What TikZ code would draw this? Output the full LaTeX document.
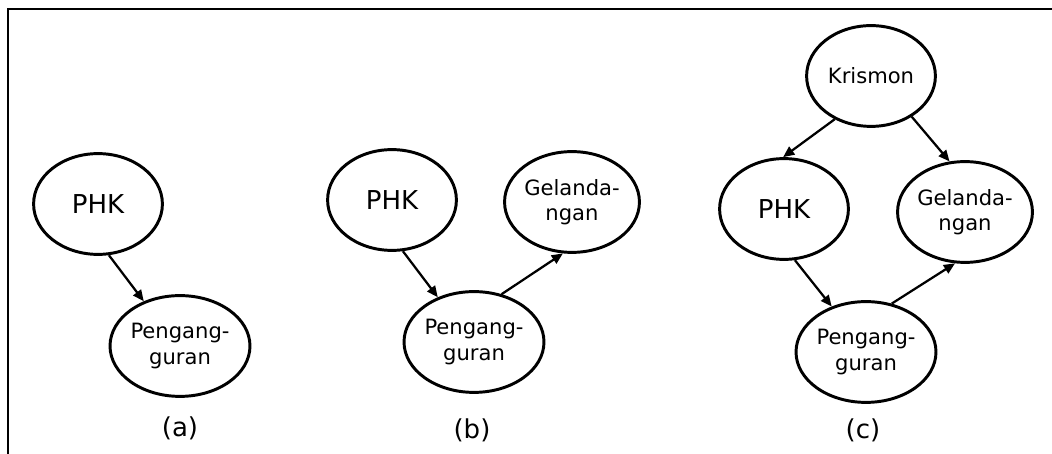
\documentclass[tikz,border=0pt]{standalone}
\usepackage{fontspec}
\setmainfont{DejaVu Sans}
\usetikzlibrary{shapes.geometric,arrows.meta}

\begin{document}
\begin{tikzpicture}[
  elipse/.style={ellipse, draw, line width=2.1pt, inner sep=0pt,
    minimum width=3.22cm, minimum height=2.52cm, align=center,
    font=\fontsize{15pt}{17.8pt}\selectfont},
  grande/.style={font=\fontsize{18.5pt}{22pt}\selectfont},
  flecha/.style={-{Triangle[length=2.8mm,width=2.4mm]}, line width=1.6pt},
  etiqueta/.style={font=\fontsize{18.5pt}{22pt}\selectfont}]
  \useasboundingbox (0,0) rectangle (26.3,11.35);

  % Marco
  \draw[line width=1.8pt] (0.2,0) -- (0.2,11.125) -- (26.3,11.125);

  % Caso (a)
  \node[elipse, grande] (phkA) at (2.45,6.25) {PHK};
  \node[elipse] (pgA) at (4.5,2.7) {Pengang-\\guran};
  \node[etiqueta] (labA) at (4.5,0.65) {(a)};
  \draw[flecha] (phkA.-78) -- (pgA.129);

  % Caso (b)
  \node[elipse, grande] (phkB) at (9.8,6.35) {PHK};
  \node[elipse] (glB) at (14.3,6.3) {Gelanda-\\ngan};
  \node[elipse] (pgB) at (11.85,2.8) {Pengang-\\guran};
  \node[etiqueta] (labB) at (11.8,0.6) {(b)};
  \draw[flecha] (phkB.-78) -- (pgB.129);
  \draw[flecha] (pgB.60) -- (glB.-100);

  % Caso (c)
  \node[elipse] (krC) at (21.775,9.45) {Krismon};
  \node[elipse, grande] (phkC) at (19.6,6.125) {PHK};
  \node[elipse] (glC) at (24.125,6.05) {Gelanda-\\ngan};
  \node[elipse] (pgC) at (21.65,2.55) {Pengang-\\guran};
  \node[etiqueta] (labC) at (21.575,0.6) {(c)};
  \draw[flecha] (krC.-130) -- (phkC.91);
  \draw[flecha] (krC.-45) -- (glC.107);
  \draw[flecha] (phkC.-78) -- (pgC.127);
  \draw[flecha] (pgC.62) -- (glC.-101);
\end{tikzpicture}
\end{document}
